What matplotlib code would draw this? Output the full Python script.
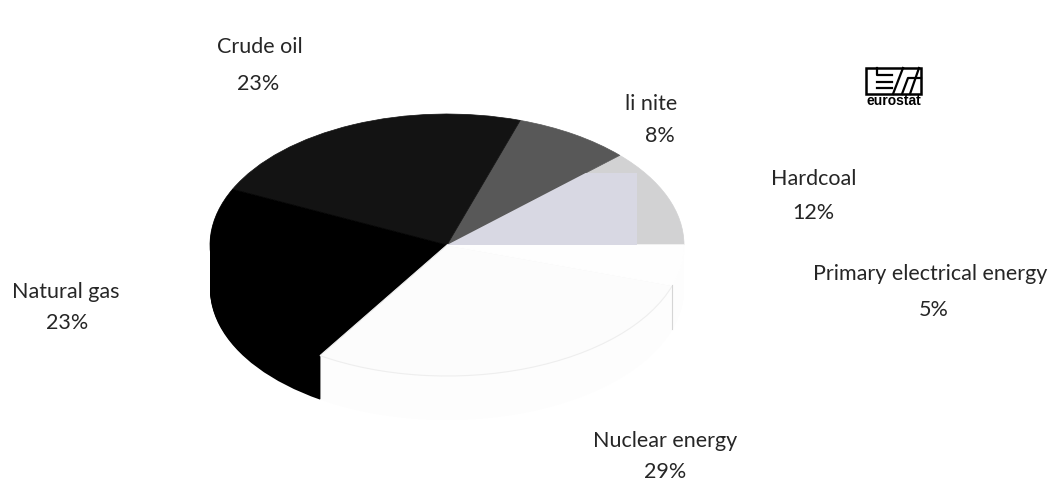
import matplotlib
matplotlib.use("Agg")
import numpy as np
import matplotlib.pyplot as plt
from matplotlib.patches import Rectangle

W, H = 1051, 482

labels = ["Hardcoal", "li nite", "Crude oil", "Natural gas", "Nuclear energy", "Primary electrical energy"]
shares = [12, 8, 23, 23, 29, 5]
top_colors = ["#d2d2d3", "#585858", "#131313", "#000000", "#fcfcfc", "#fefefe"]
side_colors = ["none", "none", "none", "#000000", "#fdfdfd", "#fdfdfd"]
label_pos = [(814, 179), (651, 104), (260, 47), (66, 292), (665, 441), (930, 274)]
pct_pos = [(813, 213), (660, 136), (258, 84), (67, 323), (665, 472), (934, 310)]

cx, cy, rx, ry = 447, 245, 237, 131
depth = 44

plt.rcParams["font.family"] = ["Lato", "DejaVu Sans"]
fig = plt.figure(figsize=(W / 100, H / 100), dpi=100)

# pie is stretched into an ellipse by the limits of a full-figure axes
ax = fig.add_axes([0, 0, 1, 1])
for d in np.arange(depth, 0, -1.0):
    ax.pie(shares, colors=side_colors, startangle=0, center=(0, -d / ry), radius=1)
wedges, _ = ax.pie(shares, colors=top_colors, startangle=0, radius=1)
for w, c in zip(wedges[:4], top_colors[:4]):
    w.set_edgecolor(c)
    w.set_linewidth(0.5)
wedges[4].set_edgecolor("#eeeeee")
wedges[4].set_linewidth(0.8)
wedges[5].set_edgecolor("#fefefe")

# lavender tint inside the hard coal slice
patch = Rectangle((0, 0), 0.8, 0.55, fc="#d8d8e3", ec="none", zorder=wedges[0].get_zorder() + 0.1)
ax.add_patch(patch)
patch.set_clip_path(wedges[0])

# wall edge between nuclear and primary electrical energy
end = np.deg2rad(360 * (1 - shares[5] / sum(shares)))
ax.plot([np.cos(end)] * 2, [np.sin(end), np.sin(end) - depth / ry], color="#d5d5d5", lw=0.8)

ax.set_aspect("auto")
ax.set_xlim(-cx / rx, (W - cx) / rx)
ax.set_ylim(-(H - cy) / ry, cy / ry)
ax.axis("off")

# labels and logo in pixel coordinates
over = fig.add_axes([0, 0, 1, 1])
over.set_xlim(0, W)
over.set_ylim(H, 0)
over.axis("off")
over.patch.set_alpha(0)

for name, share, p, q in zip(labels, shares, label_pos, pct_pos):
    over.text(p[0], p[1], name, fontsize=15.5, color="#262626", ha="center", va="center")
    over.text(q[0], q[1], f"{share}%", fontsize=15.5, color="#262626", ha="center", va="center")

over.add_patch(Rectangle((866, 68), 55, 26, fc="white", ec="black", lw=1.8))
logo_lines = [
    [(877, 68), (877, 75), (892, 75)],
    [(877, 82), (892, 82)],
    [(877, 88), (892, 88)],
    [(893, 94), (903, 68)],
    [(902, 94), (908, 78), (921, 78)],
    [(910, 94), (919, 68)],
]
for line in logo_lines:
    xs, ys = zip(*line)
    over.plot(xs, ys, color="black", lw=1.6)
over.text(893.5, 101, "eurostat", fontsize=10, fontweight="bold", family=["Liberation Sans"], ha="center", va="center")

fig.savefig("out.png", dpi=100)
